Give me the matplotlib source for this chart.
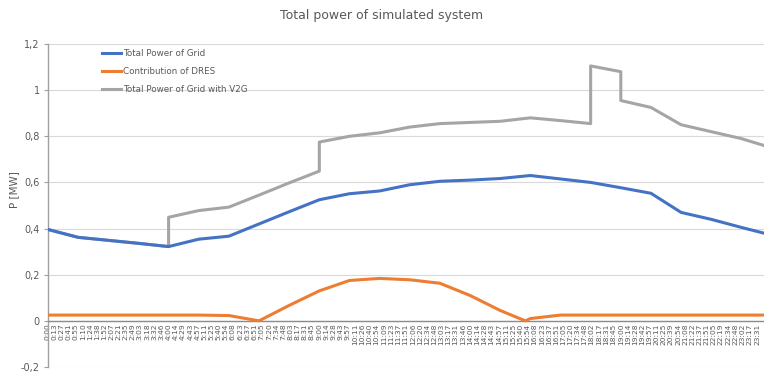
import matplotlib
matplotlib.use("Agg")
import matplotlib.pyplot as plt
from matplotlib.ticker import FuncFormatter

# Category labels along the time axis
time_labels = [
    "0:00", "0:13", "0:27", "0:41", "0:55", "1:10", "1:24", "1:38", "1:52", "2:07",
    "2:21", "2:35", "2:49", "3:03", "3:18", "3:32", "3:46", "4:00", "4:14", "4:29",
    "4:43", "4:57", "5:11", "5:25", "5:40", "5:54", "6:08", "6:23", "6:37", "6:51",
    "7:05", "7:20", "7:34", "7:48", "8:03", "8:17", "8:31", "8:45", "9:00", "9:14",
    "9:28", "9:43", "9:57", "10:11", "10:26", "10:40", "10:54", "11:09", "11:23", "11:37",
    "11:51", "12:06", "12:20", "12:34", "12:48", "13:03", "13:17", "13:31", "13:46", "14:00",
    "14:14", "14:28", "14:43", "14:57", "15:11", "15:25", "15:40", "15:54", "16:08", "16:23",
    "16:37", "16:51", "17:05", "17:20", "17:34", "17:48", "18:02", "18:17", "18:31", "18:45",
    "19:00", "19:14", "19:28", "19:42", "19:57", "20:11", "20:25", "20:39", "20:54", "21:08",
    "21:22", "21:37", "21:51", "22:05", "22:19", "22:34", "22:48", "23:02", "23:17", "23:31",
]

# Total power of grid (MW) at hourly breakpoints
grid_time = ["0:00", "1:00", "2:00", "3:00", "4:00", "5:00", "6:00", "7:00", "8:00",
             "9:00", "10:00", "11:00", "12:00", "13:00", "14:00", "15:00", "16:00",
             "17:00", "18:00", "19:00", "20:00", "21:00", "22:00", "23:00", "23:45"]
grid_power = [0.396, 0.362, 0.349, 0.336, 0.322, 0.354, 0.367, 0.420, 0.473,
              0.525, 0.551, 0.563, 0.590, 0.605, 0.610, 0.617, 0.630,
              0.615, 0.600, 0.577, 0.553, 0.470, 0.440, 0.405, 0.380]

# Contribution of distributed renewable sources (MW)
dres_time = ["0:00", "5:00", "6:00", "7:00", "8:00", "9:00", "10:00", "11:00", "12:00",
             "13:00", "14:00", "15:00", "15:50", "16:00", "17:00", "23:45"]
dres_power = [0.025, 0.025, 0.023, 0.000, 0.067, 0.130, 0.175, 0.184, 0.178,
              0.163, 0.110, 0.045, 0.000, 0.010, 0.025, 0.025]

# Total power of grid with V2G (MW); repeated times mark step changes
v2g_time = ["0:00", "1:00", "2:00", "3:00", "4:00", "4:00", "5:00", "6:00", "7:00",
            "8:00", "9:00", "9:00", "10:00", "11:00", "12:00", "13:00", "14:00",
            "15:00", "16:00", "17:00", "18:00", "18:00", "19:00", "19:00", "20:00",
            "21:00", "22:00", "23:00", "23:45"]
v2g_power = [0.396, 0.362, 0.349, 0.336, 0.322, 0.449, 0.478, 0.493, 0.545,
             0.598, 0.649, 0.775, 0.800, 0.815, 0.840, 0.855, 0.860,
             0.865, 0.880, 0.868, 0.855, 1.105, 1.080, 0.955, 0.925,
             0.850, 0.820, 0.790, 0.760]


def to_minutes(s):
    h, m = s.split(":")
    return int(h) * 60 + int(m)


TEXT = "#595959"
GRID = "#d9d9d9"

fig = plt.figure(figsize=(7.64, 3.72), dpi=100)
ax = fig.add_axes([48 / 764, 5 / 372, 1 - 48 / 764, 323 / 372])

# Axis frame: horizontal axis crosses at zero
for side in ("top", "right"):
    ax.spines[side].set_visible(False)
ax.spines["bottom"].set_position(("data", 0))
ax.spines["bottom"].set_color("#8c8c8c")
ax.spines["bottom"].set_linewidth(1.0)
ax.spines["left"].set_color("#a0a0a0")
ax.spines["left"].set_linewidth(1.0)

ax.plot([to_minutes(t) for t in grid_time], grid_power, color="#4472C4", lw=2.2,
        label="Total Power of Grid", solid_joinstyle="round", zorder=3)
ax.plot([to_minutes(t) for t in dres_time], dres_power, color="#ED7D31", lw=2.2,
        label="Contribution of DRES", solid_joinstyle="round", zorder=3)
ax.plot([to_minutes(t) for t in v2g_time], v2g_power, color="#A5A5A5", lw=2.2,
        label="Total Power of Grid with V2G", solid_joinstyle="round", zorder=2)

ax.set_xlim(0, 1425)
ax.set_ylim(-0.2, 1.2)
ax.set_yticks([-0.2, 0, 0.2, 0.4, 0.6, 0.8, 1.0, 1.2])
ax.yaxis.set_major_formatter(FuncFormatter(
    lambda v, p: ("%g" % round(v, 1)).replace(".", ",")))
ax.grid(axis="y", color=GRID, lw=0.8)
ax.set_axisbelow(True)

ax.set_xticks([to_minutes(t) for t in time_labels])
ax.set_xticklabels(time_labels, rotation=90, fontsize=5.4, color=TEXT,
                   family=["Liberation Sans Narrow", "DejaVu Sans"])
ax.tick_params(axis="x", length=0, pad=2)
ax.tick_params(axis="y", length=3, width=0.8, color="#a0a0a0", labelsize=7,
               labelcolor=TEXT, pad=3)

fig.text(14 / 764, 1 - 190 / 372, "P [MW]", rotation=90, ha="center", va="center",
         fontsize=7.5, color=TEXT)

fig.text(0.5, 0.958, "Total power of simulated system", ha="center", va="center",
         fontsize=9, color=TEXT)

leg = ax.legend(loc="upper left", bbox_to_anchor=(0.07, 0.995), frameon=False,
                fontsize=6.3, handlelength=2.2, handletextpad=0.3,
                labelspacing=1.0, borderaxespad=0)
for t in leg.get_texts():
    t.set_color(TEXT)

fig.savefig("out.png", dpi=100, facecolor="white")
